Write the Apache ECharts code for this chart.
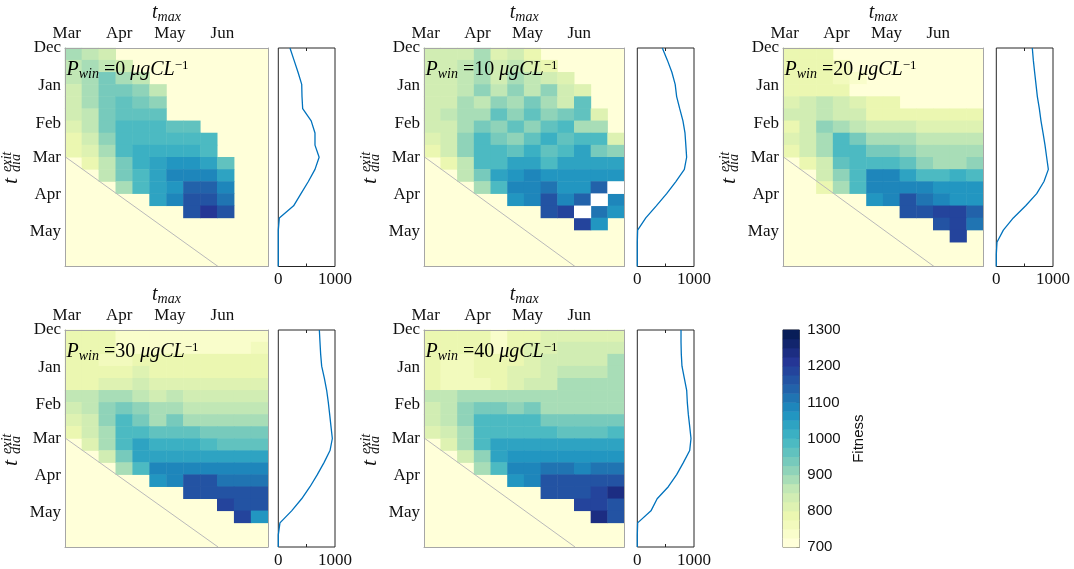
<!DOCTYPE html>
<html><head><meta charset="utf-8">
<script src="https://cdn.jsdelivr.net/npm/echarts@6/dist/echarts.min.js"></script>
<style>html,body{margin:0;padding:0;background:#fff}#c{width:1074px;height:569px}</style>
</head><body><div id="c"></div>
<script>
// ---------------- DATA ----------------
const monthsX = ['Mar', 'Apr', 'May', 'Jun'];
const monthsXDays = [1, 32, 62, 93];          // days from Feb 28 (t_max axis)
const monthsY = ['Dec', 'Jan', 'Feb', 'Mar', 'Apr', 'May'];
const monthsYDays = [0, 31, 62, 90, 121, 151]; // days from Dec 1 (t_dia axis)
const nCols = 12, nRows = 18, dayStep = 10;
const pwinLevels = [0, 10, 20, 30, 40];

// rows of fitness: [firstColumn, values...]; null = NaN (white)
const fitP0 = [
  [0, 880, 860, 830],
  [0, 870, 880, 870, 850],
  [0, 860, 890, 930, 900, 870],
  [0, 850, 890, 940, 930, 910, 860],
  [0, 840, 880, 940, 960, 940, 910],
  [0, 830, 870, 940, 970, 960, 960],
  [0, 820, 860, 930, 980, 980, 980, 970, 960],
  [0, 800, 850, 910, 990, 1000, 1000, 990, 980, 990],
  [0, 780, 820, 890, 990, 1010, 1010, 1020, 1010, 1000],
  [1, 790, 860, 950, 1010, 1030, 1060, 1060, 1040, 960],
  [2, 870, 940, 1000, 1050, 1090, 1090, 1080, 1030],
  [3, 890, 980, 1050, 1070, 1140, 1140, 1100],
  [5, 1040, 1080, 1160, 1160, 1120],
  [7, 1170, 1210, 1160],
  [], [], [], []
];
const fitP10 = [
  [0, 850, 850, 830, 890, 810, 850, 790],
  [0, 840, 840, 860, 880, 840, 860, 820, 800],
  [0, 840, 830, 860, 890, 850, 900, 860, 850, 810],
  [0, 840, 840, 870, 920, 860, 920, 860, 920, 830, 810],
  [0, 840, 850, 890, 860, 920, 880, 930, 900, 850, 960],
  [0, 840, 860, 900, 900, 960, 920, 960, 920, 940, 970, 810],
  [0, 830, 850, 900, 940, 920, 960, 920, 960, 980, 900, 880],
  [0, 810, 850, 920, 1000, 940, 920, 970, 1010, 960, 980, 980, 820],
  [0, 790, 830, 910, 1000, 990, 960, 1010, 960, 990, 1040, 930, 920],
  [1, 800, 870, 1000, 1000, 1040, 1050, 990, 1040, 1050, 1050, 1050],
  [2, 855, 940, 1040, 1060, 1090, 1060, 1060, 1060, 1060, 1060],
  [3, 890, 1000, 1090, 1090, 1110, 1060, 1060, 1150, null],
  [5, 1060, 1090, 1160, 1090, 1140, null, 1100],
  [7, 1160, 1200, null, 1120, 1060],
  [9, 1200, 1060],
  [], [], []
];
const fitP20 = [
  [0, 800, 780, 780],
  [0, 795, 780, 780, 770],
  [0, 785, 780, 780, 770, 750],
  [0, 790, 800, 800, 790, 720],
  [0, 815, 830, 855, 835, 815, 795, 795],
  [0, 830, 845, 870, 845, 835, 800, 800, 790, 790, 780, 780, 790],
  [0, 800, 840, 910, 900, 870, 840, 845, 835, 815, 815, 810, 810],
  [0, 810, 840, 900, 980, 950, 890, 900, 880, 860, 860, 855, 855],
  [0, 790, 830, 890, 1000, 990, 930, 930, 910, 890, 890, 890, 890],
  [1, 800, 850, 960, 1000, 1000, 1000, 960, 920, 900, 890, 920],
  [2, 830, 910, 1000, 1080, 1090, 1050, 1000, 1000, 1010, 1000],
  [2, 790, 890, 1000, 1080, 1090, 1090, 1080, 1070, 1060, 1060],
  [5, 1060, 1080, 1160, 1110, 1090, 1060, 1060],
  [7, 1170, 1170, 1200, 1200, 1140],
  [9, 1160, 1200, 1120],
  [10, 1200],
  [], []
];
const fitP30 = [
  [0, 795, 795, 780, 740, 740, 740, 740, 740, 740, 740, 740, 740],
  [0, 790, 790, 780, 750, 750, 750, 750, 750, 750, 750, 750, 760],
  [0, 785, 785, 770, 770, 785, 785, 785, 785, 785, 785, 785, 785],
  [0, 795, 795, 795, 795, 810, 795, 795, 795, 795, 795, 795, 795],
  [0, 800, 800, 820, 820, 835, 805, 805, 805, 805, 805, 805, 805],
  [0, 855, 855, 880, 880, 855, 845, 855, 845, 845, 845, 845, 845],
  [0, 835, 855, 910, 940, 910, 880, 880, 870, 855, 855, 855, 855],
  [0, 815, 845, 910, 990, 950, 890, 930, 890, 890, 900, 900, 900],
  [0, 790, 830, 890, 1000, 1000, 960, 960, 960, 930, 930, 930, 930],
  [1, 805, 880, 1000, 1040, 1020, 1020, 1020, 1000, 960, 960, 960],
  [2, 845, 930, 1040, 1050, 1050, 1050, 1050, 1050, 1050, 1050],
  [3, 890, 1000, 1090, 1090, 1090, 1090, 1090, 1090, 1090],
  [5, 1060, 1080, 1160, 1160, 1110, 1110, 1110],
  [7, 1160, 1160, 1160, 1160, 1160],
  [9, 1200, 1160, 1160],
  [10, 1200, 1060],
  [], []
];
const fitP40 = [
  [0, 800, 795, 790, 780, 730, 790, 800, 810, 820, 820, 820, 820],
  [0, 800, 795, 790, 780, 750, 795, 805, 820, 830, 830, 830, 845],
  [0, 790, 770, 770, 780, 780, 800, 815, 830, 845, 845, 845, 880],
  [0, 790, 770, 770, 780, 795, 805, 820, 835, 855, 855, 855, 880],
  [0, 790, 770, 770, 770, 800, 815, 830, 845, 880, 880, 880, 880],
  [0, 855, 855, 890, 890, 890, 880, 880, 880, 880, 880, 880, 900],
  [0, 845, 855, 910, 940, 940, 910, 940, 900, 900, 900, 900, 900],
  [0, 830, 855, 910, 980, 980, 980, 980, 930, 930, 930, 930, 930],
  [0, 805, 845, 890, 1000, 1000, 1000, 1000, 1000, 960, 960, 960, 1000],
  [1, 820, 890, 980, 1040, 1040, 1040, 1040, 1040, 1040, 1040, 1040],
  [2, 845, 910, 1040, 1060, 1060, 1060, 1060, 1060, 1060, 1060],
  [3, 890, 1000, 1090, 1090, 1120, 1120, 1090, 1120, 1120],
  [5, 1060, 1080, 1160, 1160, 1160, 1160, 1160],
  [7, 1160, 1160, 1160, 1200, 1230],
  [9, 1200, 1200, 1170],
  [10, 1230, 1170],
  [], []
];

// side profiles: value at each t_dia day
const sideDays = [0, 10, 20, 30, 40, 50, 60, 70, 80, 90, 100, 110, 120, 130, 140, 150, 160, 170, 180];
const sideP0  = [206, 277, 348, 413, 418, 430, 580, 647, 647, 720, 647, 530, 400, 270, 18, 0, 0, 0, 0];
const sideP10 = [441, 530, 610, 668, 694, 748, 805, 841, 856, 870, 830, 680, 518, 335, 150, 6, 0, 0, 0];
const sideP20 = [635, 653, 676, 700, 724, 759, 788, 824, 859, 888, 918, 841, 712, 518, 300, 124, 12, 0, 0];
const sideP30 = [724, 735, 747, 765, 812, 853, 882, 906, 929, 953, 912, 806, 688, 559, 412, 235, 29, 0, 0];
const sideP40 = [771, 771, 776, 788, 829, 871, 882, 900, 924, 947, 924, 812, 694, 547, 350, 241, 6, 0, 0];
const sideTickLabels = [0, 1000];
const sideTickMarks = [500];

// t_dia = t_max reference line, in (t_max day, t_dia day)
const diagLine = [[0, 89.5], [90.5, 180]];

// colorbar
const cbValues = [712.5, 737.5, 762.5, 787.5, 812.5, 837.5, 862.5, 887.5, 912.5, 937.5, 962.5, 987.5,
  1012.5, 1037.5, 1062.5, 1087.5, 1112.5, 1137.5, 1162.5, 1187.5, 1212.5, 1237.5, 1262.5, 1287.5];
const cbMin = 700, cbMax = 1300, cbStep = 100;

// ---------------- LAYOUT / STYLE ----------------
const fitPanels = [fitP0, fitP10, fitP20, fitP30, fitP40];
const sidePanels = [sideP0, sideP10, sideP20, sideP30, sideP40];
const heatBoxes = [
  {left: 65, top: 48, width: 203, height: 218.5},
  {left: 424, top: 48, width: 200.3, height: 218.5},
  {left: 783, top: 48, width: 200.3, height: 218.5},
  {left: 65, top: 330, width: 203, height: 217},
  {left: 424, top: 330, width: 200.3, height: 217}
];
const sideBoxes = [
  {left: 278.3, top: 48, width: 56.7, height: 218.5},
  {left: 637.3, top: 48, width: 56.7, height: 218.5},
  {left: 996.3, top: 48, width: 56.7, height: 218.5},
  {left: 278.3, top: 330, width: 56.7, height: 217},
  {left: 637.3, top: 330, width: 56.7, height: 217}
];
const cbBox = {left: 783, top: 330, width: 16.3, height: 217.3};
const ylgnbu = ['#ffffd9', '#edf8b1', '#c7e9b4', '#7fcdbb', '#41b6c4', '#1d91c0', '#225ea8', '#253494', '#081d58'];
const SERIF = '"Liberation Serif", "DejaVu Serif", serif';
const SANS = '"Liberation Sans", Arial, sans-serif';
const TXT = '#111111';
const FRAME = '#a6a6a6';

const colIdx = Array.from({length: nCols}, (_, i) => i);
const rowIdx = Array.from({length: nRows}, (_, i) => i);
const cbIdx = cbValues.map((_, i) => i);

function cells(rows) {
  const out = [], nan = [];
  rows.forEach((r, y) => {
    if (!r.length) return;
    for (let i = 1; i < r.length; i++) {
      const x = r[0] + i - 1;
      if (r[i] === null) nan.push([x, y, 1]); else out.push([x, y, r[i]]);
    }
  });
  return {out, nan};
}

const grid = [], xAxis = [], yAxis = [], series = [], title = [], graphic = [];
const heatSeries = [], nanSeries = [];

function rt(extra) {
  return Object.assign({fontFamily: SERIF, fontWeight: 'normal', color: '#000'}, extra);
}

heatBoxes.forEach((b, k) => {
  grid.push(Object.assign({show: true, backgroundColor: ylgnbu[0], borderWidth: 0, outerBoundsMode: 'none', containLabel: false}, b));
  const g = grid.length - 1;
  const xc = xAxis.length;
  xAxis.push({type: 'category', gridIndex: g, data: colIdx, position: 'bottom', z: 10,
    axisLine: {show: true, onZero: false, lineStyle: {color: FRAME, width: 1}},
    axisTick: {show: false}, axisLabel: {show: false}, splitLine: {show: false}});
  const xv = xAxis.length;
  xAxis.push({type: 'value', gridIndex: g, position: 'top', min: 0, max: nCols * dayStep, z: 10,
    axisLine: {show: true, onZero: false, lineStyle: {color: FRAME, width: 1}},
    axisTick: {show: false}, splitLine: {show: false},
    axisLabel: {customValues: monthsXDays, formatter: v => monthsX[monthsXDays.indexOf(v)],
      fontFamily: SERIF, fontSize: 17, color: TXT, margin: 6},
    name: '{t|t}{s|max}', nameLocation: 'middle', nameGap: 20,
    nameTextStyle: {rich: {
      t: rt({fontStyle: 'italic', fontSize: 20, lineHeight: 22, verticalAlign: 'middle', color: TXT}),
      s: rt({fontStyle: 'italic', fontSize: 14, lineHeight: 12, verticalAlign: 'bottom', color: TXT})
    }}});
  const yc = yAxis.length;
  yAxis.push({type: 'category', gridIndex: g, data: rowIdx, inverse: true, position: 'right', z: 10,
    axisLine: {show: true, onZero: false, lineStyle: {color: FRAME, width: 1}},
    axisTick: {show: false}, axisLabel: {show: false}, splitLine: {show: false}});
  const yv = yAxis.length;
  yAxis.push({type: 'value', gridIndex: g, position: 'left', min: 0, max: nRows * dayStep, inverse: true, z: 10,
    axisLine: {show: true, onZero: false, lineStyle: {color: FRAME, width: 1}},
    axisTick: {show: false}, splitLine: {show: false},
    axisLabel: {customValues: monthsYDays, formatter: v => monthsY[monthsYDays.indexOf(v)],
      fontFamily: SERIF, fontSize: 17, color: TXT, margin: 4}});
  const c = cells(fitPanels[k]);
  heatSeries.push(series.length);
  series.push({type: 'heatmap', xAxisIndex: xc, yAxisIndex: yc, data: c.out, progressive: 0,
    emphasis: {disabled: true}, silent: true, z: 2});
  if (c.nan.length) {
    nanSeries.push(series.length);
    series.push({type: 'heatmap', xAxisIndex: xc, yAxisIndex: yc, data: c.nan, progressive: 0,
      emphasis: {disabled: true}, silent: true, z: 2});
  }
  series.push({type: 'line', xAxisIndex: xv, yAxisIndex: yv, data: diagLine, symbol: 'none', silent: true,
    lineStyle: {color: '#b9b9b9', width: 1}, z: 4, animation: false});

  // P_win annotation
  title.push({left: b.left + 1.5, top: b.top + 11, padding: 0,
    text: '{p|P}{s|win}{n| =' + pwinLevels[k] + ' }{i|μgCL}{u|−1}',
    textStyle: {fontWeight: 'normal', rich: {
      p: rt({fontStyle: 'italic', fontSize: 20, lineHeight: 22, verticalAlign: 'middle'}),
      s: rt({fontStyle: 'italic', fontSize: 14, lineHeight: 11, verticalAlign: 'bottom'}),
      n: rt({fontSize: 20, lineHeight: 22, verticalAlign: 'middle'}),
      i: rt({fontStyle: 'italic', fontSize: 20, lineHeight: 22, verticalAlign: 'middle'}),
      u: rt({fontSize: 13, lineHeight: 11, verticalAlign: 'top'})
    }}});

  // t^exit_dia rotated label
  graphic.push({type: 'group', x: b.left - 54, y: b.top + 136, rotation: Math.PI / 2, silent: true, children: [
    {type: 'text', x: 0, y: 0, style: {text: 't', font: 'italic 22px ' + SERIF, fill: TXT, align: 'left', verticalAlign: 'middle'}},
    {type: 'text', x: 12, y: -4, style: {text: 'exit', font: 'italic 14px ' + SERIF, fill: TXT, align: 'left', verticalAlign: 'middle'}},
    {type: 'text', x: 12, y: 5, style: {text: 'dia', font: 'italic 14px ' + SERIF, fill: TXT, align: 'left', verticalAlign: 'middle'}}
  ]});
});

sideBoxes.forEach((b, k) => {
  grid.push(Object.assign({show: true, backgroundColor: '#fff', borderColor: '#262626', borderWidth: 1, outerBoundsMode: 'none', containLabel: false}, b));
  const g = grid.length - 1;
  const xs = xAxis.length;
  xAxis.push({type: 'value', gridIndex: g, position: 'bottom', min: 0, max: 1000, interval: 500,
    axisLine: {show: false, onZero: false}, splitLine: {show: false},
    axisTick: {show: true, inside: true, length: 3, customValues: sideTickMarks, lineStyle: {color: '#262626'}},
    axisLabel: {customValues: sideTickLabels, formatter: v => String(v), fontFamily: SERIF, fontSize: 17, color: TXT, margin: 5}});
  xAxis.push({type: 'value', gridIndex: g, position: 'top', min: 0, max: 1000, interval: 500,
    axisLine: {show: false, onZero: false}, splitLine: {show: false},
    axisTick: {show: true, inside: true, length: 3, customValues: sideTickMarks, lineStyle: {color: '#262626'}},
    axisLabel: {show: false}});
  const ys = yAxis.length;
  yAxis.push({type: 'value', gridIndex: g, min: 0, max: nRows * dayStep, inverse: true, show: false,
    axisLine: {onZero: false}});
  series.push({type: 'line', xAxisIndex: xs, yAxisIndex: ys, symbol: 'none', silent: true, animation: false,
    data: sideDays.map((d, i) => [sidePanels[k][i], d]),
    lineStyle: {color: '#0072BD', width: 1.3}, z: 3});
});

// colorbar
grid.push(Object.assign({show: true, backgroundColor: '#fff', borderColor: '#3a3a3a', borderWidth: 1, outerBoundsMode: 'none', containLabel: false}, cbBox));
const gcb = grid.length - 1;
const xcb = xAxis.length;
xAxis.push({type: 'category', gridIndex: gcb, data: [0], show: false});
const ycb = yAxis.length;
yAxis.push({type: 'category', gridIndex: gcb, data: cbIdx, show: false});
yAxis.push({type: 'value', gridIndex: gcb, position: 'right', min: cbMin, max: cbMax, interval: cbStep,
  axisLine: {show: false, onZero: false}, splitLine: {show: false},
  axisTick: {show: true, inside: true, length: 3, lineStyle: {color: '#262626'}},
  axisLabel: {formatter: v => String(v), fontFamily: SANS, fontSize: 15, color: TXT, margin: 8},
  name: 'Fitness', nameLocation: 'middle', nameRotate: 90, nameGap: 52,
  nameTextStyle: {fontFamily: SANS, fontSize: 15, color: TXT}});
heatSeries.push(series.length);
series.push({type: 'heatmap', xAxisIndex: xcb, yAxisIndex: ycb, data: cbValues.map((v, i) => [0, i, v]),
  progressive: 0, emphasis: {disabled: true}, silent: true, z: 1});

const visualMap = [
  {type: 'piecewise', show: false, min: cbMin, max: cbMax, splitNumber: 24, seriesIndex: heatSeries,
    inRange: {color: ylgnbu}, outOfRange: {color: '#ffffff'}},
  {type: 'continuous', show: false, min: 0, max: 1, seriesIndex: nanSeries,
    inRange: {color: ['#ffffff', '#ffffff']}}
];

const chart = echarts.init(document.getElementById('c'), null, {renderer: 'canvas', width: 1074, height: 569});
chart.setOption({
  backgroundColor: '#ffffff',
  animation: false,
  title, grid, xAxis, yAxis, series, visualMap, graphic
});
</script></body></html>
